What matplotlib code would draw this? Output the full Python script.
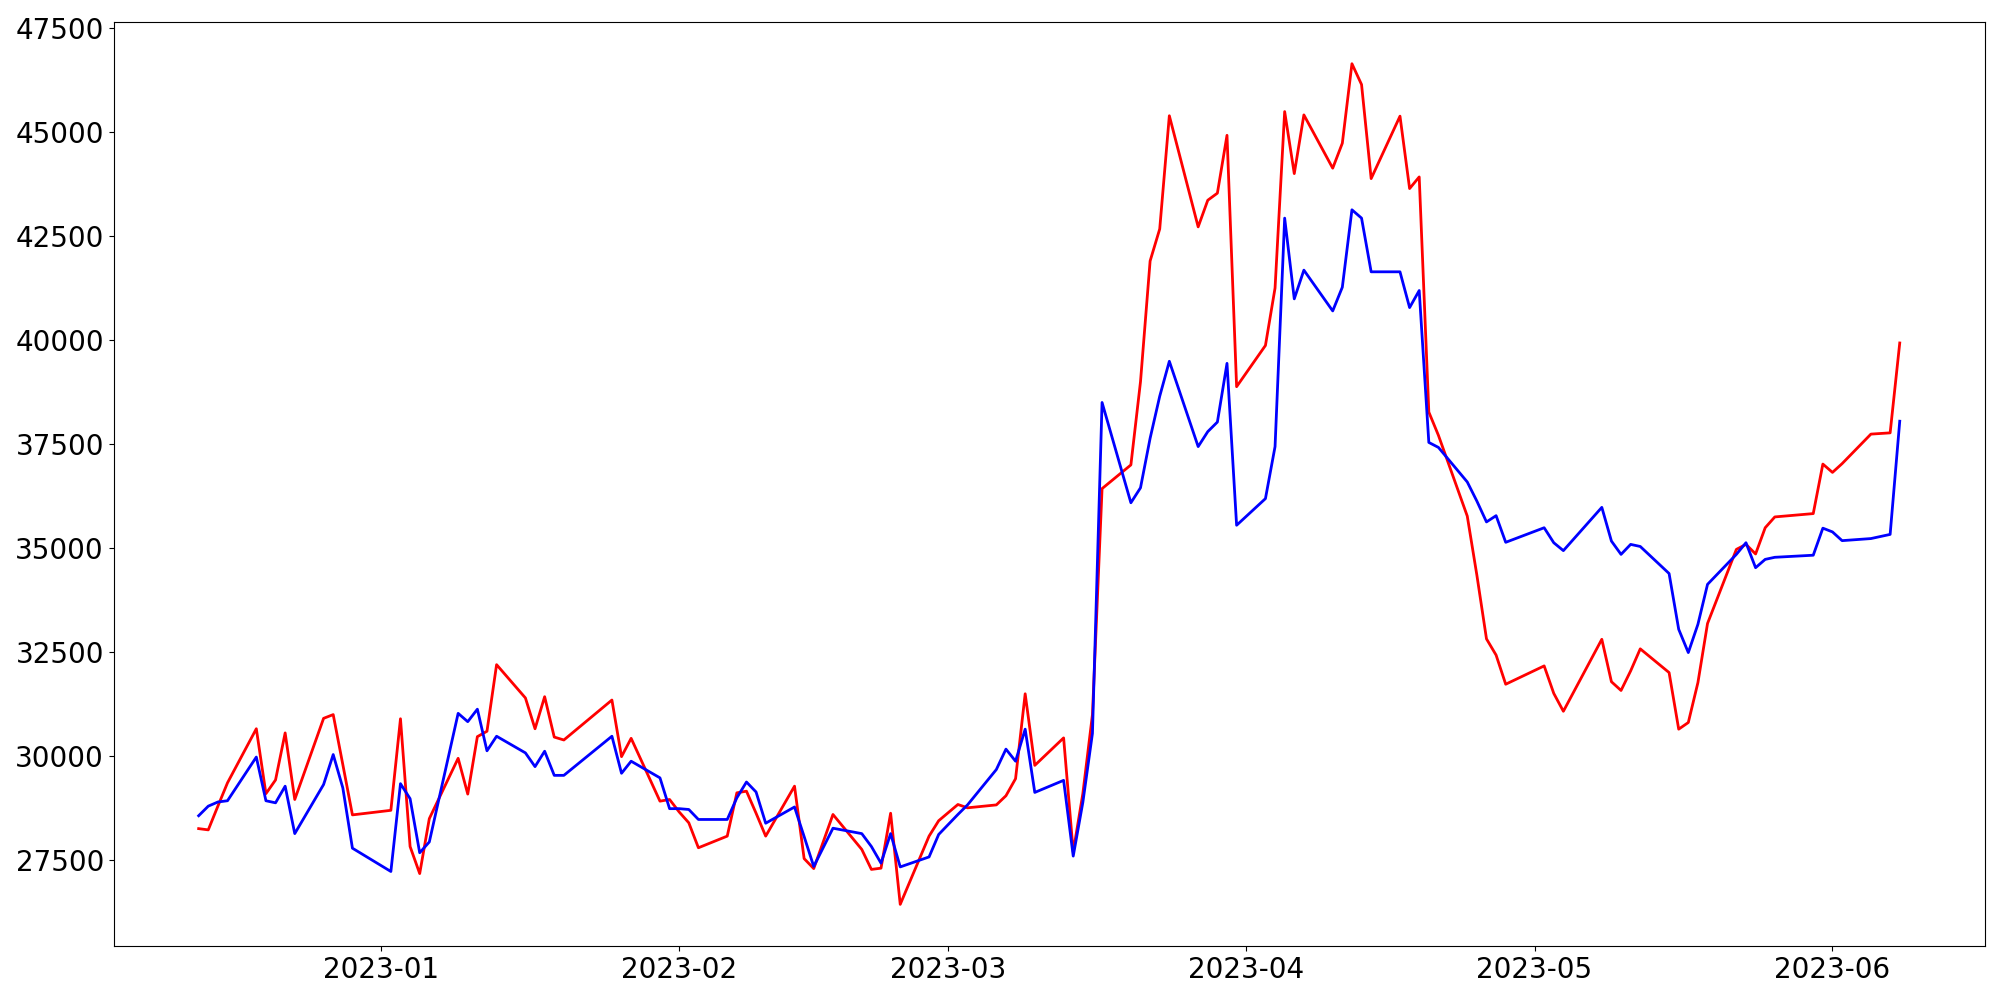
import matplotlib
matplotlib.use("Agg")
import matplotlib.pyplot as plt
import pandas as pd

dates = [
    "2022-12-13", "2022-12-14", "2022-12-15", "2022-12-16", "2022-12-19", "2022-12-20",
    "2022-12-21", "2022-12-22", "2022-12-23", "2022-12-26", "2022-12-27", "2022-12-28",
    "2022-12-29",
    "2023-01-02", "2023-01-03", "2023-01-04", "2023-01-05", "2023-01-06", "2023-01-09",
    "2023-01-10", "2023-01-11", "2023-01-12", "2023-01-13", "2023-01-16", "2023-01-17",
    "2023-01-18", "2023-01-19", "2023-01-20", "2023-01-25", "2023-01-26", "2023-01-27",
    "2023-01-30", "2023-01-31",
    "2023-02-01", "2023-02-02", "2023-02-03", "2023-02-06", "2023-02-07", "2023-02-08",
    "2023-02-09", "2023-02-10", "2023-02-13", "2023-02-14", "2023-02-15", "2023-02-16",
    "2023-02-17", "2023-02-20", "2023-02-21", "2023-02-22", "2023-02-23", "2023-02-24",
    "2023-02-27", "2023-02-28",
    "2023-03-02", "2023-03-03", "2023-03-06", "2023-03-07", "2023-03-08", "2023-03-09",
    "2023-03-10", "2023-03-13", "2023-03-14", "2023-03-15", "2023-03-16", "2023-03-17",
    "2023-03-20", "2023-03-21", "2023-03-22", "2023-03-23", "2023-03-24", "2023-03-27",
    "2023-03-28", "2023-03-29", "2023-03-30", "2023-03-31",
    "2023-04-03", "2023-04-04", "2023-04-05", "2023-04-06", "2023-04-07", "2023-04-10",
    "2023-04-11", "2023-04-12", "2023-04-13", "2023-04-14", "2023-04-17", "2023-04-18",
    "2023-04-19", "2023-04-20", "2023-04-21", "2023-04-24", "2023-04-25", "2023-04-26",
    "2023-04-27", "2023-04-28",
    "2023-05-02", "2023-05-03", "2023-05-04", "2023-05-08", "2023-05-09", "2023-05-10",
    "2023-05-11", "2023-05-12", "2023-05-15", "2023-05-16", "2023-05-17", "2023-05-18",
    "2023-05-19", "2023-05-22", "2023-05-23", "2023-05-24", "2023-05-25", "2023-05-26",
    "2023-05-30", "2023-05-31",
    "2023-06-01", "2023-06-02", "2023-06-05", "2023-06-07", "2023-06-08",
]

red_values = [
    28260, 28230, 28800, 29360, 30660, 29100,
    29430, 30560, 28960, 30910, 31000, 29800,
    28590,
    28700, 30900, 27830, 27180, 28500, 29950,
    29090, 30470, 30600, 32200, 31400, 30660,
    31430, 30460, 30390, 31350, 29990, 30430,
    28920, 28960,
    28660, 28400, 27800, 28080, 29120, 29160,
    28630, 28080, 29280, 27540, 27300, 27950,
    28600, 27760, 27280, 27310, 28630, 26440,
    28080, 28450,
    28840, 28760, 28830, 29050, 29460, 31500,
    29780, 30440, 27700, 29100, 31000, 36430,
    37000, 39000, 41900, 42670, 45390, 42720,
    43360, 43530, 44920, 38880,
    39870, 41250, 45490, 44000, 45410, 44130,
    44730, 46640, 46140, 43880, 45380, 43640,
    43920, 38270, 37710, 35770, 34350, 32820,
    32430, 31730,
    32170, 31510, 31080, 32810, 31790, 31580,
    32050, 32580, 32010, 30650, 30810, 31770,
    33190, 34970, 35090, 34860, 35490, 35750,
    35830, 37020,
    36820, 37030, 37740, 37770, 39930,
]

blue_values = [
    28570, 28800, 28900, 28930, 29980, 28930,
    28880, 29280, 28140, 29320, 30040, 29240,
    27790,
    27230, 29340, 28980, 27680, 27940, 31030,
    30830, 31130, 30130, 30480, 30080, 29750,
    30120, 29540, 29540, 30480, 29590, 29880,
    29480, 28740,
    28740, 28720, 28480, 28480, 29000, 29380,
    29140, 28390, 28780, 28070, 27350, 27810,
    28270, 28140, 27830, 27430, 28140, 27340,
    27580, 28120,
    28600, 28830, 29680, 30170, 29880, 30650,
    29130, 29420, 27600, 28890, 30550, 38500,
    36090, 36450, 37640, 38650, 39490, 37440,
    37800, 38030, 39440, 35550,
    36190, 37440, 42930, 40990, 41680, 40700,
    41270, 43130, 42930, 41640, 41640, 40780,
    41190, 37540, 37420, 36590, 36130, 35630,
    35780, 35140,
    35490, 35130, 34940, 35980, 35170, 34850,
    35090, 35040, 34390, 33050, 32490, 33170,
    34130, 34850, 35130, 34530, 34730, 34780,
    34830, 35480,
    35390, 35180, 35230, 35330, 38050,
]

x = pd.to_datetime(dates)

fig, ax = plt.subplots(figsize=(20, 10), dpi=100)
ax.plot(x, red_values, color="red", linewidth=2)
ax.plot(x, blue_values, color="blue", linewidth=2)

ax.tick_params(axis="x", labelsize=20)
ax.tick_params(axis="y", labelsize=20)

fig.subplots_adjust(left=0.0568, right=0.9924, top=0.9783, bottom=0.0536)
fig.savefig("out.png", dpi=100)
